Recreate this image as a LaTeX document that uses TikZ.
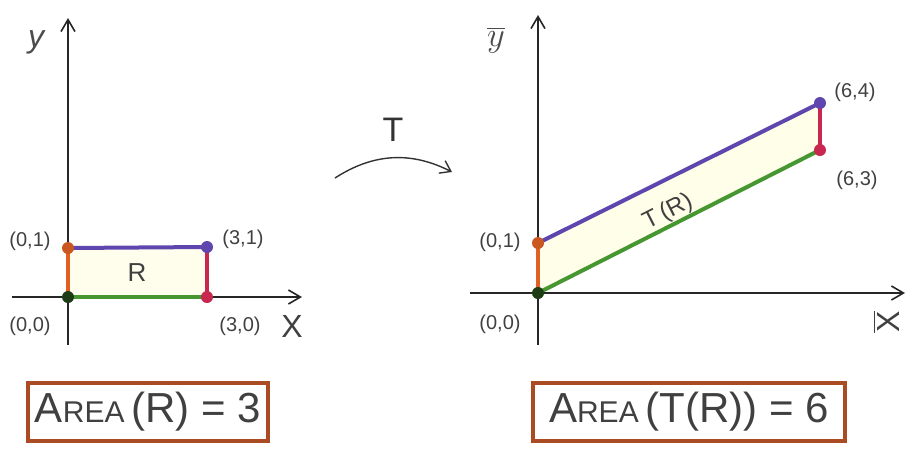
\documentclass[tikz,border=0pt]{standalone}
\usepackage{fontspec}
\setmainfont{Liberation Sans}
\usetikzlibrary{arrows.meta}
\definecolor{edgeorange}{RGB}{225,95,35}
\definecolor{edgepurple}{RGB}{95,70,175}
\definecolor{edgered}{RGB}{200,40,80}
\definecolor{edgegreen}{RGB}{70,150,50}
\definecolor{boxbrown}{RGB}{170,75,35}
\newcommand{\areaword}{A{\fontsize{15}{18}\selectfont REA}}
\begin{document}
\begin{tikzpicture}[x=0.5pt, y=-0.5pt,
    axis/.style={draw=black!85, line width=0.8pt, -{Straight Barb[length=6pt, width=7pt]}},
    edge/.style={line width=2pt, line cap=round},
    dot/.style={circle, fill=#1, inner sep=0pt, minimum size=6pt},
    coord/.style={font=\fontsize{10}{12}\selectfont, text=black!75},
    areabox/.style={draw=boxbrown, line width=2pt, fill=white, minimum height=29pt, font=\fontsize{21}{24}\selectfont, text=black!75}]
    \useasboundingbox (0,0) rectangle (912,452);

    % Define corners
    \coordinate (o1) at (68,297);
    \coordinate (a1) at (68,248);
    \coordinate (b1) at (207,247);
    \coordinate (c1) at (207,297);
    \coordinate (o2) at (538,293);
    \coordinate (a2) at (538,243);
    \coordinate (b2) at (820,103);
    \coordinate (c2) at (820,150);

    % Fill regions
    \fill[yellow!7] (o1) -- (a1) -- (b1) -- (c1) -- cycle;
    \fill[yellow!9] (o2) -- (a2) -- (b2) -- (c2) -- cycle;

    % Draw axes
    \coordinate (ly0) at (68,345);
    \coordinate (ly1) at (68,18);
    \coordinate (lx0) at (12,297);
    \coordinate (lx1) at (302,297);
    \coordinate (ry0) at (538,345);
    \coordinate (ry1) at (538,15);
    \coordinate (rx0) at (470,293);
    \coordinate (rx1) at (905,293);
    \draw[axis] (ly0) -- (ly1);
    \draw[axis] (lx0) -- (lx1);
    \draw[axis] (ry0) -- (ry1);
    \draw[axis] (rx0) -- (rx1);
    \node[font=\fontsize{16}{18}\selectfont\itshape, text=black!70] (ylab) at (36,42) {y};
    \node[font=\fontsize{16}{18}\selectfont, text=black!75] (xlab) at (292,326) {X};
    \node[font=\fontsize{16}{18}\selectfont\itshape, text=black!70] (ybarlab) at (496,40) {$\overline{y}$};
    \node[font=\fontsize{16}{18}\selectfont, text=black!75, rotate=90] (xbarlab) at (886,322) {$\overline{\mathrm{X}}$};

    % Draw edges
    \draw[edge, edgeorange] (o1) -- (a1);
    \draw[edge, edgepurple] (a1) -- (b1);
    \draw[edge, edgered] (b1) -- (c1);
    \draw[edge, edgegreen] (c1) -- (o1);
    \draw[edge, edgeorange] (o2) -- (a2);
    \draw[edge, edgepurple] (a2) -- (b2);
    \draw[edge, edgered] (b2) -- (c2);
    \draw[edge, edgegreen] (c2) -- (o2);

    % Corner dots
    \node[dot=edgeorange!90!black] (pa1) at (a1) {};
    \node[dot=edgepurple] (pb1) at (b1) {};
    \node[dot=edgered] (pc1) at (c1) {};
    \node[dot=edgegreen!40!black] (po1) at (o1) {};
    \node[dot=edgeorange!90!black] (pa2) at (a2) {};
    \node[dot=edgepurple] (pb2) at (b2) {};
    \node[dot=edgered] (pc2) at (c2) {};
    \node[dot=edgegreen!40!black] (po2) at (o2) {};

    % Corner labels
    \node[coord] (la1) at (30,241) {(0,1)};
    \node[coord] (lb1) at (243,239) {(3,1)};
    \node[coord] (lo1) at (30,326) {(0,0)};
    \node[coord] (lc1) at (240,326) {(3,0)};
    \node[coord] (la2) at (500,242) {(0,1)};
    \node[coord] (lb2) at (855,92) {(6,4)};
    \node[coord] (lc2) at (857,180) {(6,3)};
    \node[coord] (lo2) at (500,324) {(0,0)};
    \node[font=\fontsize{13}{15}\selectfont, text=black!75] (rname) at (137,273) {R};
    \node[font=\fontsize{12}{14}\selectfont, text=black!75, rotate=27, inner sep=0pt] (trname) at (668,212) {T\,(R)};

    % Draw map arrow
    \coordinate (tfrom) at (335,178);
    \coordinate (tto) at (452,172);
    \draw[black!80, line width=0.7pt, -{Straight Barb[length=5pt, width=7pt]}] (tfrom) to[bend left=30] (tto);
    \node[font=\fontsize{17}{20}\selectfont, text=black!80] (tname) at (393,130) {T};

    % Area boxes
    \node[areabox, minimum width=120pt] (arear) at (148,412) {\areaword\,(R) = 3};
    \node[areabox, minimum width=156pt] (areatr) at (689,412) {\areaword\,(T(R)) = 6};
\end{tikzpicture}
\end{document}
